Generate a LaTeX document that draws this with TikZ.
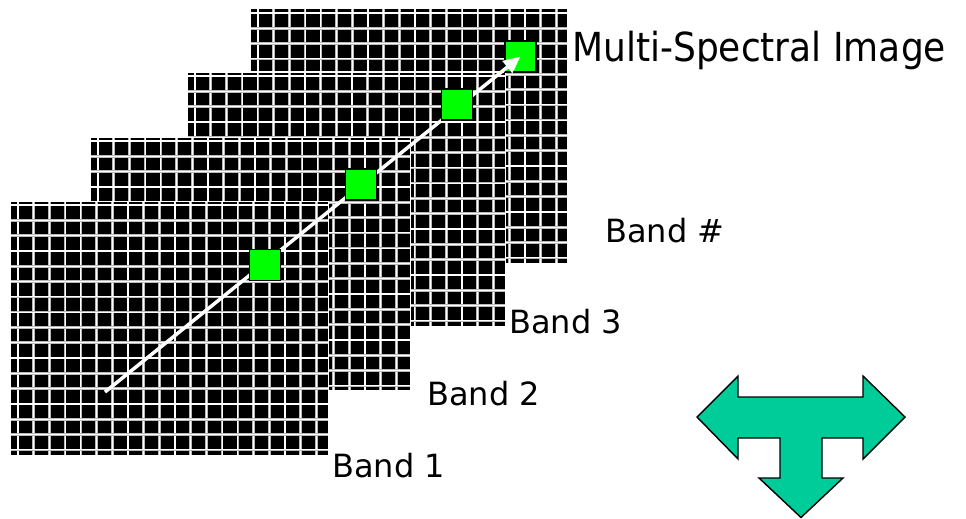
\documentclass[tikz,border=0pt]{standalone}
\usepackage{fontspec}
\setmainfont{DejaVu Sans}
\newfontfamily\titlefont[FakeStretch=0.9]{DejaVu Sans}
\usetikzlibrary{arrows.meta}
\definecolor{pixgreen}{RGB}{0,255,0}
\definecolor{teegreen}{RGB}{0,204,153}

% one band: left, top, right, bottom (in pixels)
\newcommand{\bandgrid}[4]{%
  \fill[black] (#1,#2) rectangle (#3,#4);
  \foreach \i in {0,...,19}
    \draw[gridline] ({#1+8+\i*15.7},#2) -- ({#1+8+\i*15.7},#4);
  \foreach \j in {0,...,16}
    \draw[gridline] (#1,{#2+4+\j*15.3}) -- (#3,{#2+4+\j*15.3});
  \draw[white, line width=1pt] (#1,#2) rectangle (#3,#4);
}

\begin{document}
\begin{tikzpicture}[x=1pt, y=-1pt]
      \tikzset{gridline/.style={draw=gray!55, double=white, double distance=1.2pt, line width=0.7pt},
               pixel/.style={draw=black, line width=1.3pt, fill=pixgreen, inner sep=0pt, minimum size=31pt},
               bandtext/.style={anchor=base west, inner sep=0pt, font=\fontsize{32}{38}\selectfont},
               teearrow/.style={draw=black, line width=1.4pt, fill=teegreen, line join=miter}}
      \useasboundingbox (0,0) rectangle (966,519);
%% Bands
	%back to front
		\bandgrid{250}{9}{567}{263}
		\bandgrid{187}{72}{505}{326}
		\bandgrid{90}{137}{410}{390}
		\bandgrid{10}{201}{328}{455}
%% Pixels
		\node[pixel] (pix4) at (520.5,56.5) {};
		\coordinate (tail) at (105,392);
		\draw[white, line width=3.5pt, -{Triangle[length=17pt, width=15pt]}] (tail) -- (pix4.center);
		\node[pixel] (pix3) at (457,104.5) {};
		\node[pixel] (pix2) at (361,184.5) {};
		\node[pixel] (pix1) at (265,265) {};
%% Labels
		\node[anchor=base west, inner sep=0pt, font=\titlefont\fontsize{40}{48}\selectfont] (title) at (572,62) {Multi-Spectral Image};
		\node[bandtext] (bandn) at (605,242) {Band \#};
		\node[bandtext] (band3) at (509,333) {Band 3};
		\node[bandtext] (band2) at (427,405) {Band 2};
		\node[bandtext] (band1) at (332,477) {Band 1};
%% T arrow
		\draw[teearrow] (697,417) -- (738,376) -- (738,397) -- (863,397) -- (863,376) -- (905,417)
			-- (863,459) -- (863,438) -- (822,438) -- (822,478) -- (843,478) -- (801,517.5)
			-- (759,478) -- (780,478) -- (780,438) -- (738,438) -- (738,459) -- cycle;
\end{tikzpicture}
\end{document}
